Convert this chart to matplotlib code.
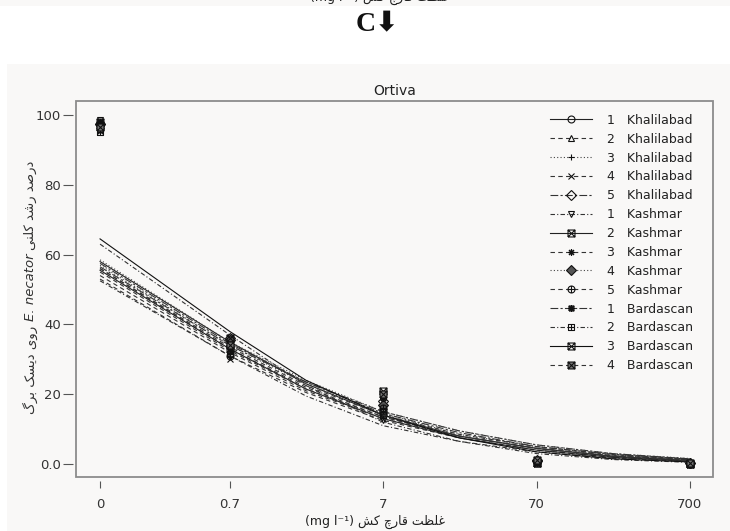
import matplotlib
matplotlib.use("Agg")
import matplotlib.pyplot as plt
from matplotlib.path import Path
from matplotlib.patches import Rectangle

# concentrations (mg/l); 0 is drawn at 0.1 on the log axis
conc = [0, 0.7, 7, 70, 700]
fit_conc = [0, 0.7, 2.2, 7, 22, 70, 220, 700]
tick_labels = ["0", "0.7", "7", "70", "700"]

nums = ["1", "2", "3", "4", "5", "1", "2", "3", "4", "5", "1", "2", "3", "4"]
sites = ["Khalilabad"] * 5 + ["Kashmar"] * 5 + ["Bardascan"] * 4

# fitted curves
fit_vals = [
    [58, 35, 23, 14, 8, 4.5, 2.2, 1.0],
    [56, 33, 22, 13.5, 8, 4.5, 2.3, 1.2],
    [57, 34, 23, 14.5, 8.5, 5, 2.6, 1.3],
    [53, 31, 20.5, 12.5, 7.5, 4, 2.0, 1.0],
    [56.5, 34, 23.5, 15, 9.5, 5.5, 3.0, 1.5],
    [63, 37, 22.5, 12, 6.5, 3, 1.3, 0.5],
    [55.5, 33, 21.5, 13, 7.5, 4, 1.9, 0.8],
    [55, 32.5, 21.5, 13.5, 8, 4.5, 2.3, 1.1],
    [58.5, 35, 24, 15, 9.5, 5.5, 3.0, 1.6],
    [54, 32, 21, 13, 8, 4.5, 2.4, 1.3],
    [57.5, 34.5, 23.5, 14.5, 9, 5, 2.8, 1.4],
    [52.5, 31, 19.5, 11, 6.5, 3.5, 1.7, 0.8],
    [64.5, 38, 24, 14, 7.5, 3.5, 1.5, 0.6],
    [56, 33.5, 22.5, 14, 8.5, 5, 2.7, 1.5],
]

# observed growth (%)
obs_vals = [
    [97, 34, 15, 0.5, 0],
    [96, 33, 14, 0.8, 0.2],
    [98, 32, 16, 0.5, 0],
    [95.5, 30, 13, 0.3, 0],
    [97.5, 36, 18, 1.0, 0.2],
    [98.5, 35, 12.5, 0.5, 0],
    [97, 33, 15, 0.3, 0],
    [96.5, 32, 14.5, 0.6, 0.1],
    [97.5, 35.5, 17, 1.2, 0.3],
    [96, 31, 16, 0.8, 0.2],
    [98, 33.5, 19, 1.0, 0.3],
    [95, 31.5, 14, 0.5, 0.1],
    [98, 36, 21, 0.4, 0],
    [96.5, 34, 20, 1.2, 0.2],
]

title = "Ortiva"
ylabel_fa1 = "درصد رشد کلنی"
ylabel_species = "E. necator"
ylabel_fa2 = "روی دیسک برگ"
xlabel_fa = "غلظت قارچ کش"
xlabel_unit = "(mg l\u207b\u00b9)"


# --- tiny persian shaper (matplotlib has no text shaping) ---
FORMS = {
    'ا': ('\uFE8D', '\uFE8E', None, None),
    'ب': ('\uFE8F', '\uFE90', '\uFE91', '\uFE92'),
    'ت': ('\uFE95', '\uFE96', '\uFE97', '\uFE98'),
    'چ': ('\uFB7A', '\uFB7B', '\uFB7C', '\uFB7D'),
    'د': ('\uFEA9', '\uFEAA', None, None),
    'ر': ('\uFEAD', '\uFEAE', None, None),
    'س': ('\uFEB1', '\uFEB2', '\uFEB3', '\uFEB4'),
    'ش': ('\uFEB5', '\uFEB6', '\uFEB7', '\uFEB8'),
    'ص': ('\uFEB9', '\uFEBA', '\uFEBB', '\uFEBC'),
    'ظ': ('\uFEC5', '\uFEC6', '\uFEC7', '\uFEC8'),
    'غ': ('\uFECD', '\uFECE', '\uFECF', '\uFED0'),
    'ق': ('\uFED5', '\uFED6', '\uFED7', '\uFED8'),
    'ک': ('\uFB8E', '\uFB8F', '\uFB90', '\uFB91'),
    'گ': ('\uFB92', '\uFB93', '\uFB94', '\uFB95'),
    'ل': ('\uFEDD', '\uFEDE', '\uFEDF', '\uFEE0'),
    'ن': ('\uFEE5', '\uFEE6', '\uFEE7', '\uFEE8'),
    'و': ('\uFEED', '\uFEEE', None, None),
    'ی': ('\uFBFC', '\uFBFD', '\uFBFE', '\uFBFF'),
}


def fa(text):
    out = []
    for i, c in enumerate(text):
        if c not in FORMS:
            out.append(c)
            continue
        prev = text[i - 1] if i > 0 else None
        nxt = text[i + 1] if i + 1 < len(text) else None
        jp = prev in FORMS and FORMS[prev][2] is not None
        jn = nxt in FORMS and FORMS[c][2] is not None
        iso, fin, ini, med = FORMS[c]
        if jp and jn:
            out.append(med)
        elif jp:
            out.append(fin)
        elif jn:
            out.append(ini)
        else:
            out.append(iso)
    return ''.join(out)[::-1]


# --- custom markers ---
def compound(*parts):
    verts, codes = [], []
    for p in parts:
        verts += p
        codes += [Path.MOVETO] + [Path.LINETO] * (len(p) - 1)
    return Path(verts, codes)


sq = [(-1, -1), (1, -1), (1, 1), (-1, 1), (-1, -1)]
box_x = compound(sq, [(-1, -1), (1, 1)], [(-1, 1), (1, -1)])
box_plus = compound(sq, [(0, -1), (0, 1)], [(-1, 0), (1, 0)])
box_star = compound(sq, [(-1, -1), (1, 1)], [(-1, 1), (1, -1)], [(0, -1.4), (0, 1.4)], [(-1.4, 0), (1.4, 0)])
circ = Path.unit_circle()
o_plus = Path.make_compound_path(circ, compound([(0, -1), (0, 1)], [(-1, 0), (1, 0)]))

solid = '-'
dash = (0, (4, 3))
dot = (0, (1, 2))
dashdot = (0, (4, 2, 1, 2))
longshort = (0, (7, 2, 2, 2))

styles = [
    (solid, 'o', 'none', '#222222'),
    (dash, '^', 'none', '#333333'),
    (dot, '+', 'none', '#444444'),
    (dash, 'x', 'none', '#333333'),
    (longshort, 'D', 'none', '#333333'),
    (dashdot, 'v', 'none', '#333333'),
    (solid, box_x, 'none', '#222222'),
    (dash, (8, 2, 0), 'none', '#333333'),
    (dot, 'D', '#555555', '#444444'),
    (dash, o_plus, 'none', '#333333'),
    (longshort, box_star, 'none', '#333333'),
    (dashdot, box_plus, 'none', '#333333'),
    (solid, box_x, 'none', '#111111'),
    (dash, box_x, '#777777', '#333333'),
]

plt.rcParams['font.family'] = ['DejaVu Sans']

fig = plt.figure(figsize=(7.3, 5.31), dpi=100)
fig.patch.set_facecolor('white')
panel = '#f9f8f7'
fig.patches.append(Rectangle((7 / 730, 0), 1, (531 - 64) / 531, transform=fig.transFigure,
                             facecolor=panel, edgecolor='none', zorder=-5))
fig.patches.append(Rectangle((0, 1 - 6 / 531), 1, 6 / 531, transform=fig.transFigure,
                             facecolor=panel, edgecolor='none', zorder=-5))

ax = fig.add_axes([76 / 730, (531 - 477) / 531, (713 - 76) / 730, (477 - 101) / 531])
ax.set_facecolor(panel)
ax.set_zorder(2)

pos = [0.1 if c == 0 else c for c in conc]
fit_pos = [0.1 if c == 0 else c for c in fit_conc]

handles = []
for k in range(len(nums)):
    ls, mk, mfc, col = styles[k]
    ax.plot(fit_pos, fit_vals[k], linestyle=ls, color=col, lw=0.8)
    ax.plot(pos, obs_vals[k], linestyle='none', marker=mk, ms=5, mfc=mfc, mec='#111111', mew=0.8)
    h, = ax.plot([], [], linestyle=ls, color=col, lw=0.8, marker=mk, ms=5, mfc=mfc, mec='#111111', mew=0.8)
    handles.append(h)

ax.set_xscale('log')
ax.set_xlim(0.0697, 989)
ax.set_ylim(-3.7, 104)
ax.set_xticks(pos)
ax.set_xticklabels(tick_labels)
ax.minorticks_off()
ax.set_yticks([0, 20, 40, 60, 80, 100])
ax.set_yticklabels(["0.0", "20", "40", "60", "80", "100"])

for s in ax.spines.values():
    s.set_visible(False)
ax.spines['bottom'].set_position(('outward', 3))
ax.spines['left'].set_position(('outward', 2))
ax.add_patch(Rectangle((0, 0), 1, 1, transform=ax.transAxes, fill=False,
                       edgecolor='#8c8c8c', lw=1.3, clip_on=False))
ax.tick_params(axis='x', length=5, width=0.8, color='#555555', labelsize=9.5, labelcolor='#333333', pad=7)
ax.tick_params(axis='y', length=7, width=0.8, color='#555555', labelsize=9.5, labelcolor='#333333', pad=2)

ax.set_title(title, fontsize=10, color='#222222', pad=4)

labels = [f"{n}   {s}" for n, s in zip(nums, sites)]
ax.legend(handles, labels, loc='upper left', bbox_to_anchor=(0.744, 0.966), frameon=False,
          fontsize=9, handlelength=3.4, handletextpad=1.2, labelspacing=0.47,
          borderpad=0, borderaxespad=0, labelcolor='#222222')

# y label in three pieces, stacked bottom to top (rtl reading order)
fig.canvas.draw()
r = fig.canvas.get_renderer()
pieces = [(fa(ylabel_fa2), 'normal'), (ylabel_species, 'italic'), (fa(ylabel_fa1), 'normal')]
texts = [fig.text(0, 0, t, rotation=90, fontsize=9.5, style=st, color='#333333',
                  ha='center', va='bottom') for t, st in pieces]
heights = [t.get_window_extent(r).height for t in texts]
gap = 4
total = sum(heights) + gap * (len(heights) - 1)
y0 = (531 - 287) - total / 2
for t, h in zip(texts, heights):
    t.set_position((30 / 730, y0 / 531))
    y0 += h + gap

xlab = xlabel_unit + " " + fa(xlabel_fa)
fig.text(375 / 730, 1 - 522 / 531, xlab, ha='center', va='center', fontsize=9, color='#222222')

# cropped caption at the very top
fig.text(380 / 730, 1 - 5 / 531, xlab, ha='center', va='bottom', fontsize=9, color='#222222')

fig.text(377 / 730, 1 - 25 / 531, "C\u2b07", ha='center', va='center', fontsize=20,
         fontweight='bold', family=['Liberation Serif', 'DejaVu Sans'], color='#111111')

fig.savefig('out.png', dpi=100)
